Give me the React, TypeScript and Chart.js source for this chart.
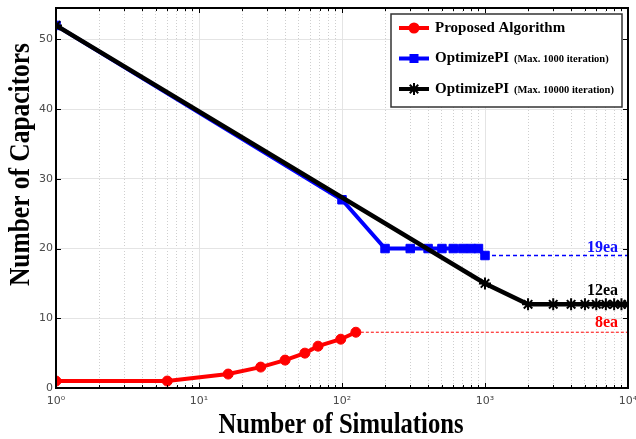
import React, { useEffect, useRef } from 'react';
import { Chart, registerables } from 'chart.js';

Chart.register(...registerables);

// ---- data ----
const proposedX = [1, 6, 16, 27, 40, 55, 68, 98, 125];
const proposedY = [1, 1, 2, 3, 4, 5, 6, 7, 8];
const opt1000X = [1, 100, 200, 300, 400, 500, 600, 700, 800, 900, 1000];
const opt1000Y = [52, 27, 20, 20, 20, 20, 20, 20, 20, 20, 19];
const opt10000X = [1, 1000, 2000, 3000, 4000, 5000, 6000, 7000, 8000, 9000, 10000];
const opt10000Y = [52, 15, 12, 12, 12, 12, 12, 12, 12, 12, 12];
const proposedTailX = [125, 10000];
const proposedTailY = [8, 8];
const opt1000TailX = [1000, 10000];
const opt1000TailY = [19, 19];

const xTickValues = [1, 10, 100, 1000, 10000];
const xTickLabels = ['10\u2070', '10\u00b9', '10\u00b2', '10\u00b3', '10\u2074'];
const yTickValues = [0, 10, 20, 30, 40, 50];

const legendNames = ['Proposed Algorithm', 'OptimizePI', 'OptimizePI'];
const legendNotes = ['', '(Max. 1000 iteration)', '(Max. 10000 iteration)'];
const legendColors = ['#ff0000', '#0000ff', '#000000'];
const legendMarkers = ['circle', 'rect', 'star'];

const endLabels = ['19ea', '12ea', '8ea'];
const endValues = [19, 12, 8];
const endColors = ['#1010ff', '#000000', '#ff0000'];

const xTitle = 'Number of Simulations';
const yTitle = 'Number of Capacitors';

const toPts = (xs: number[], ys: number[]) => xs.map((x, i) => ({ x, y: ys[i] }));

const minorXTicks: number[] = [];
for (let d = 1; d < 10000; d *= 10) {
  for (let k = 2; k <= 9; k++) minorXTicks.push(d * k);
}

const SERIF = '"Liberation Serif", "Times New Roman", serif';
const endLabelLift = [4, 9, 5];

function drawMarker(ctx: CanvasRenderingContext2D, style: string, x: number, y: number, color: string) {
  ctx.save();
  ctx.fillStyle = color;
  ctx.strokeStyle = color;
  if (style === 'circle') {
    ctx.beginPath();
    ctx.arc(x, y, 5.5, 0, Math.PI * 2);
    ctx.fill();
  } else if (style === 'rect') {
    ctx.fillRect(x - 4.5, y - 4.5, 9, 9);
  } else {
    ctx.lineWidth = 2;
    const r = 6;
    ctx.beginPath();
    for (let a = 0; a < 4; a++) {
      const ang = (a * Math.PI) / 4;
      ctx.moveTo(x + Math.cos(ang) * r, y + Math.sin(ang) * r);
      ctx.lineTo(x - Math.cos(ang) * r, y - Math.sin(ang) * r);
    }
    ctx.stroke();
  }
  ctx.restore();
}

const decorPlugin = {
  id: 'decor',
  afterDraw(chart: any) {
    const { ctx, chartArea: ca, scales } = chart;
    const xs = scales.x;
    const ys = scales.y;

    // inner tick marks
    ctx.save();
    ctx.strokeStyle = '#000';
    ctx.lineWidth = 1;
    ctx.beginPath();
    minorXTicks.forEach((v) => {
      const px = Math.round(xs.getPixelForValue(v)) + 0.5;
      ctx.moveTo(px, ca.bottom); ctx.lineTo(px, ca.bottom - 3);
      ctx.moveTo(px, ca.top); ctx.lineTo(px, ca.top + 3);
    });
    xTickValues.forEach((v) => {
      const px = Math.round(xs.getPixelForValue(v)) + 0.5;
      ctx.moveTo(px, ca.bottom); ctx.lineTo(px, ca.bottom - 5);
      ctx.moveTo(px, ca.top); ctx.lineTo(px, ca.top + 5);
    });
    yTickValues.forEach((v) => {
      const py = Math.round(ys.getPixelForValue(v)) + 0.5;
      ctx.moveTo(ca.left, py); ctx.lineTo(ca.left + 5, py);
      ctx.moveTo(ca.right, py); ctx.lineTo(ca.right - 5, py);
    });
    ctx.stroke();

    // frame
    ctx.lineWidth = 2;
    ctx.strokeRect(ca.left, ca.top, ca.right - ca.left, ca.bottom - ca.top);
    ctx.restore();

    // end labels
    ctx.save();
    ctx.font = 'bold 16px ' + SERIF;
    ctx.textAlign = 'right';
    ctx.textBaseline = 'alphabetic';
    endLabels.forEach((t, i) => {
      ctx.fillStyle = endColors[i];
      ctx.fillText(t, ca.right - 10, ys.getPixelForValue(endValues[i]) - endLabelLift[i]);
    });
    ctx.restore();

    // legend
    ctx.save();
    const lx = ca.right - 237;
    const ly = ca.top + 6;
    const lw = 231;
    const lh = 93;
    ctx.fillStyle = '#fff';
    ctx.fillRect(lx, ly, lw, lh);
    ctx.strokeStyle = '#333';
    ctx.lineWidth = 1.5;
    ctx.strokeRect(lx, ly, lw, lh);
    legendNames.forEach((name, i) => {
      const cy = ly + 14 + i * 30.5;
      const c = legendColors[i];
      ctx.strokeStyle = c;
      ctx.lineWidth = 4;
      ctx.beginPath();
      ctx.moveTo(lx + 8, cy);
      ctx.lineTo(lx + 38, cy);
      ctx.stroke();
      drawMarker(ctx, legendMarkers[i], lx + 23, cy, c);
      ctx.fillStyle = '#000';
      ctx.textAlign = 'left';
      ctx.textBaseline = 'middle';
      ctx.font = 'bold 15px ' + SERIF;
      ctx.fillText(name, lx + 44, cy);
      if (legendNotes[i]) {
        const w = ctx.measureText(name + ' ').width;
        ctx.font = 'bold 10.5px ' + SERIF;
        ctx.fillText(legendNotes[i], lx + 44 + w + 1, cy + 1);
      }
    });
    ctx.restore();

    // axis titles (condensed bold serif)
    ctx.save();
    ctx.fillStyle = '#000';
    ctx.font = 'bold 30px ' + SERIF;
    ctx.textAlign = 'center';
    ctx.textBaseline = 'alphabetic';
    const wx = ctx.measureText(xTitle).width;
    ctx.translate((ca.left + ca.right) / 2 - 1, ca.bottom + 45);
    ctx.scale(245 / wx, 1);
    ctx.fillText(xTitle, 0, 0);
    ctx.restore();

    ctx.save();
    ctx.fillStyle = '#000';
    ctx.font = 'bold 30px ' + SERIF;
    ctx.textAlign = 'center';
    ctx.textBaseline = 'alphabetic';
    const wy = ctx.measureText(yTitle).width;
    ctx.translate(ca.left - 27, ca.top + 156.5);
    ctx.rotate(-Math.PI / 2);
    ctx.scale(243 / wy, 1);
    ctx.fillText(yTitle, 0, 0);
    ctx.restore();
  },
};

export default function App() {
  const ref = useRef<HTMLCanvasElement | null>(null);

  useEffect(() => {
    document.body.style.margin = '0';
    const canvas = ref.current;
    if (!canvas) return;
    const tickFont = { family: '"DejaVu Sans", sans-serif', size: 11 };
    const chart = new Chart(canvas, {
      type: 'line',
      data: {
        datasets: [
          {
            label: 'OptimizePI (Max. 10000 iteration)',
            data: toPts(opt10000X, opt10000Y),
            borderColor: '#000000',
            backgroundColor: '#000000',
            borderWidth: 4.5,
            pointStyle: 'star',
            pointRadius: 6,
            pointBorderWidth: 2,
            order: 1,
          },
          {
            label: 'OptimizePI (Max. 1000 iteration)',
            data: toPts(opt1000X, opt1000Y),
            borderColor: '#0000ff',
            backgroundColor: '#0000ff',
            borderWidth: 4,
            pointStyle: 'rect',
            pointRadius: 6,
            pointBorderWidth: 1,
            order: 2,
          },
          {
            label: 'Proposed Algorithm',
            data: toPts(proposedX, proposedY),
            borderColor: '#ff0000',
            backgroundColor: '#ff0000',
            borderWidth: 4,
            pointStyle: 'circle',
            pointRadius: 5,
            pointBorderWidth: 1,
            order: 3,
          },
          {
            label: 'proposed tail',
            data: toPts(proposedTailX, proposedTailY),
            borderColor: '#ff0000',
            borderWidth: 1,
            borderDash: [3, 2],
            pointRadius: 0,
            order: 4,
          },
          {
            label: 'opt1000 tail',
            data: toPts(opt1000TailX, opt1000TailY),
            borderColor: '#0000ff',
            borderWidth: 1.5,
            borderDash: [4, 3],
            pointRadius: 0,
            order: 5,
          },
        ],
      },
      options: {
        animation: false,
        responsive: false,
        devicePixelRatio: 1,
        layout: { padding: { top: 7, right: 4, left: 0, bottom: 0 } },
        plugins: { legend: { display: false }, tooltip: { enabled: false } },
        elements: { line: { tension: 0 } },
        scales: {
          x: {
            type: 'logarithmic',
            position: 'bottom',
            min: 1,
            max: 10000,
            afterBuildTicks: (s: any) => {
              s.ticks = xTickValues.map((v) => ({ value: v, major: true }));
            },
            afterFit: (s: any) => {
              s.height = 51;
              s.paddingLeft = 0;
              s.paddingRight = 0;
            },
            ticks: {
              autoSkip: false,
              maxRotation: 0,
              padding: 7,
              color: '#4a4a4a',
              font: tickFont,
              callback: (v: any) => {
                const i = xTickValues.indexOf(Number(v));
                return i >= 0 ? xTickLabels[i] : '';
              },
            },
            grid: { color: '#e4e4e4', lineWidth: 1, drawTicks: false },
            border: { display: true, color: '#000', width: 2 },
          },
          x2: {
            type: 'logarithmic',
            position: 'bottom',
            min: 1,
            max: 10000,
            afterBuildTicks: (s: any) => {
              s.ticks = minorXTicks.map((v) => ({ value: v }));
            },
            afterFit: (s: any) => {
              s.height = 0;
              s.paddingLeft = 0;
              s.paddingRight = 0;
            },
            ticks: { display: false },
            grid: { color: '#cfcfcf', lineWidth: 1, drawTicks: false },
            border: { display: false, dash: [1, 2] },
          },
          y: {
            type: 'linear',
            min: 0,
            max: 54.5,
            afterBuildTicks: (s: any) => {
              s.ticks = yTickValues.map((v) => ({ value: v }));
            },
            afterFit: (s: any) => {
              s.width = 56;
              s.paddingTop = 0;
              s.paddingBottom = 0;
            },
            ticks: { padding: 3, color: '#4a4a4a', font: tickFont },
            grid: { color: '#e4e4e4', lineWidth: 1, drawTicks: false },
            border: { display: true, color: '#000', width: 2 },
          },
        },
      },
      plugins: [decorPlugin],
    } as any);
    return () => chart.destroy();
  }, []);

  return (
    <div style={{ width: 636, height: 439 }}>
      <canvas ref={ref} width={636} height={439} style={{ display: 'block' }} />
    </div>
  );
}
